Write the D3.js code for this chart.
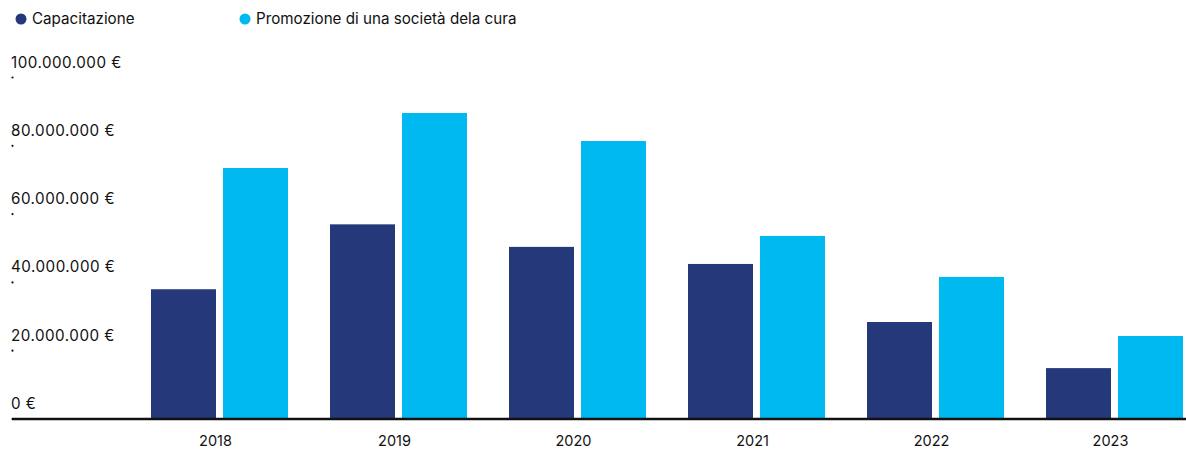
<!DOCTYPE html>
<html>
<head>
<meta charset="utf-8">
<script src="https://cdn.jsdelivr.net/npm/d3@7"></script>
<style>
  html, body { margin: 0; padding: 0; background: #fff; }
  svg { display: block; font-family: Inter, "Noto Sans", sans-serif; }
</style>
</head>
<body>
<svg id="chart" width="1186" height="449"></svg>
<script>
// Funding per year, in euro
const years = ["2018", "2019", "2020", "2021", "2022", "2023"];
const seriesNames = ["Capacitazione", "Promozione di una società dela cura"];
const capacitazione = [38000000, 57000000, 50400000, 45400000, 28400000, 14900000];
const promozione = [73500000, 89600000, 81400000, 53600000, 41600000, 24300000];
const yTicks = [0, 20000000, 40000000, 60000000, 80000000, 100000000];
const yTickLabels = ["0 €", "20.000.000 €", "40.000.000 €", "60.000.000 €", "80.000.000 €", "100.000.000 €"];
const colors = ["#24387a", "#00b9f1"];

const svg = d3.select("#chart");
const W = 1186;

const rows = years.map((y, i) => ({ year: y, values: [capacitazione[i], promozione[i]] }));

const x0 = d3.scaleBand().domain(years).range([130, 1204]).paddingInner(42 / 179).paddingOuter(21 / 179);
const x1 = d3.scaleBand().domain(d3.range(seriesNames.length)).range([0, x0.bandwidth()]).paddingInner(7 / 72).paddingOuter(0);
const y = d3.scaleLinear().domain([0, 100000000]).range([419, 77.5]);

// Legend
const legend = svg.append("g").attr("class", "legend");
const legendX = [21, 245];
seriesNames.forEach((name, i) => {
  const g = legend.append("g").attr("transform", `translate(${legendX[i]},19)`);
  g.append("circle").attr("r", 5.5).attr("fill", colors[i]);
  g.append("text").attr("x", 11).attr("dy", "0.35em")
    .attr("font-size", 15.2).attr("fill", "#111").text(name);
});

// Y axis: dots at tick positions with labels above
const yAxis = svg.append("g").attr("class", "y-axis");
yTicks.forEach((t, i) => {
  yAxis.append("circle").attr("cx", 12.5).attr("cy", y(t)).attr("r", 1.1).attr("fill", "#111");
  yAxis.append("text").attr("x", 11).attr("y", y(t) - 10)
    .attr("font-size", 15.2).attr("letter-spacing", 0.5).attr("fill", "#111").text(yTickLabels[i]);
});

// Bars
const groups = svg.append("g").selectAll("g").data(rows).join("g")
  .attr("transform", d => `translate(${x0(d.year)},0)`);
groups.selectAll("rect").data(d => d.values.map((v, i) => ({ v, i }))).join("rect")
  .attr("x", d => x1(d.i))
  .attr("width", x1.bandwidth())
  .attr("y", d => y(d.v))
  .attr("height", d => y(0) - y(d.v))
  .attr("fill", d => colors[d.i]);

// Baseline
svg.append("line").attr("x1", 12).attr("x2", W).attr("y1", y(0)).attr("y2", y(0))
  .attr("stroke", "#111").attr("stroke-width", 2.5);

// X axis year labels
const xAxis = svg.append("g").attr("transform", `translate(-4,${y(0)})`)
  .call(d3.axisBottom(x0).tickSize(0).tickPadding(17));
xAxis.select(".domain").remove();
xAxis.selectAll("text").attr("font-size", 14.5).attr("fill", "#111")
  .style("font-family", "Inter, 'Noto Sans', sans-serif");
</script>
</body>
</html>
